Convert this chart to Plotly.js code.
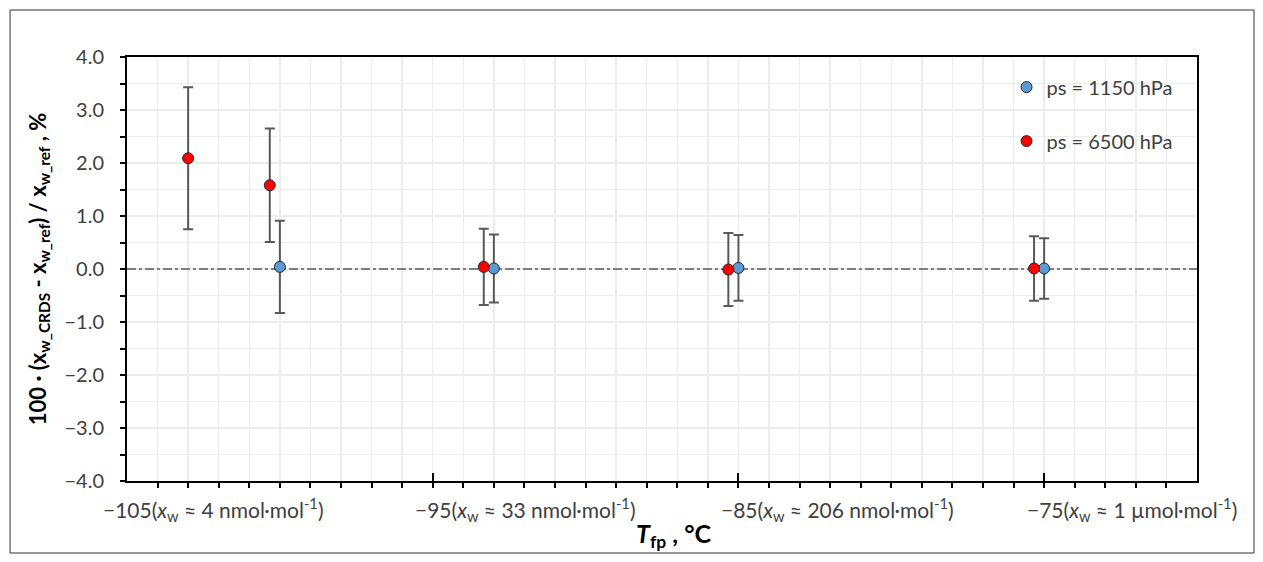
<!DOCTYPE html>
<html>
<head>
<meta charset="utf-8">
<script src="https://cdn.plot.ly/plotly-3.0.1.min.js"></script>
<style>
  body { margin: 0; background: #fff; }
  #chart { width: 1263px; height: 562px; }
</style>
</head>
<body>
<div id="chart"></div>
<script>
// ps = 1150 hPa
var blueX = [-100, -93, -85, -75];
var blueY = [0.04, 0.01, 0.02, 0.01];
var blueErr = [0.87, 0.64, 0.62, 0.57];

// ps = 6500 hPa
var redX = [-103, -100.33, -93.33, -85.33, -75.33];
var redY = [2.09, 1.58, 0.04, -0.01, 0.01];
var redErr = [1.34, 1.07, 0.72, 0.69, 0.61];

// reference line at zero deviation
var zeroX = [-105, -70];
var zeroY = [0, 0];

var tickVals = [-105, -95, -85, -75];
var tickNums = ['\u2212105', '\u221295', '\u221285', '\u221275'];
var tickConc = ['4 nmol\u00b7mol<sup>-1</sup>', '33 nmol\u00b7mol<sup>-1</sup>',
                '206 nmol\u00b7mol<sup>-1</sup>', '1 \u00b5mol\u00b7mol<sup>-1</sup>'];

var font = 'Lato, "Open Sans", sans-serif';
var textCol = '#404040';

function errBars(arr) {
    return {type: 'data', array: arr, visible: true, color: '#595959', thickness: 2, width: 5};
}

var zero = {
    x: zeroX, y: zeroY, type: 'scatter', mode: 'lines',
    showlegend: false, hoverinfo: 'skip',
    line: {color: '#595959', width: 1.3, dash: 'dashdot'}
};
var blue = {
    x: blueX, y: blueY, error_y: errBars(blueErr),
    type: 'scatter', mode: 'markers', name: 'ps = 1150 hPa',
    legendgroup: 'b', legendrank: 1,
    marker: {color: '#5b9bd5', size: 11, line: {color: '#262626', width: 1}}
};
var red = {
    x: redX, y: redY, error_y: errBars(redErr),
    type: 'scatter', mode: 'markers', name: 'ps = 6500 hPa',
    legendgroup: 'r', legendrank: 2,
    marker: {color: '#ff0000', size: 11, line: {color: '#262626', width: 1}}
};

var annotations = [];
for (var i = 0; i < tickVals.length; i++) {
    annotations.push({
        x: tickVals[i], xref: 'x', y: 0, yref: 'paper',
        xanchor: 'left', yanchor: 'middle',
        xshift: -tickNums[i].length * 6.5, yshift: -28,
        showarrow: false,
        text: tickNums[i] + '(<i>x</i><sub>w</sub> \u2248 ' + tickConc[i] + ')',
        font: {family: font, size: 21, color: textCol}
    });
}
// x axis title
annotations.push({
    x: 0.5, xref: 'paper', y: 0, yref: 'paper',
    xanchor: 'center', yanchor: 'middle',
    xshift: 12, yshift: -54, showarrow: false,
    text: '<b><i>T</i><sub>fp</sub> , \u00b0C</b>',
    font: {family: font, size: 25, color: '#000'}
});

var layout = {
    width: 1263, height: 562,
    margin: {l: 127, r: 66, t: 57, b: 81},
    paper_bgcolor: '#fff', plot_bgcolor: '#fff',
    showlegend: true,
    legend: {
        x: 0.822, y: 0.975, xanchor: 'left', yanchor: 'top',
        traceorder: 'grouped', tracegroupgap: 25,
        font: {family: font, size: 20, color: textCol},
        bgcolor: 'rgba(0,0,0,0)', itemwidth: 30
    },
    xaxis: {
        range: [-105, -70],
        tickvals: tickVals, showticklabels: false,
        ticks: 'inside', ticklen: 8, tickwidth: 2, tickcolor: '#000',
        showgrid: true, gridcolor: '#ececec', gridwidth: 1.5,
        minor: {dtick: 1, ticks: 'outside', ticklen: 5, tickwidth: 2, tickcolor: '#000',
                showgrid: true, gridcolor: '#ececec', gridwidth: 1.5},
        showline: true, linecolor: '#000', linewidth: 2, mirror: true,
        zeroline: false
    },
    yaxis: {
        range: [-4, 4], dtick: 1, tick0: 0, tickformat: '.1f',
        ticks: 'outside', ticklen: 5, tickwidth: 2, tickcolor: '#000',
        ticklabelstandoff: 12,
        showgrid: true, gridcolor: '#ececec', gridwidth: 1.5,
        minor: {dtick: 0.5, ticks: 'outside', ticklen: 5, tickwidth: 2, tickcolor: '#000',
                showgrid: true, gridcolor: '#ececec', gridwidth: 1.5},
        showline: true, linecolor: '#000', linewidth: 2, mirror: true,
        zeroline: false,
        tickfont: {family: font, size: 20, color: textCol},
        title: {
            text: '<b>100 \u00b7 (x<sub>w_CRDS</sub> - x<sub>w_ref</sub>) / x<sub>w_ref</sub> , %</b>',
            font: {family: font, size: 22, color: '#000'},
            standoff: 12
        }
    },
    shapes: [
        {type: 'rect', xref: 'paper', yref: 'paper',
         x0: -0.1093, x1: 1.0533, y0: -0.1698, y1: 1.1108,
         line: {color: '#333', width: 1}, fillcolor: 'rgba(0,0,0,0)'}
    ],
    annotations: annotations
};

Plotly.newPlot('chart', [zero, blue, red], layout, {displayModeBar: false, staticPlot: true});
</script>
</body>
</html>
